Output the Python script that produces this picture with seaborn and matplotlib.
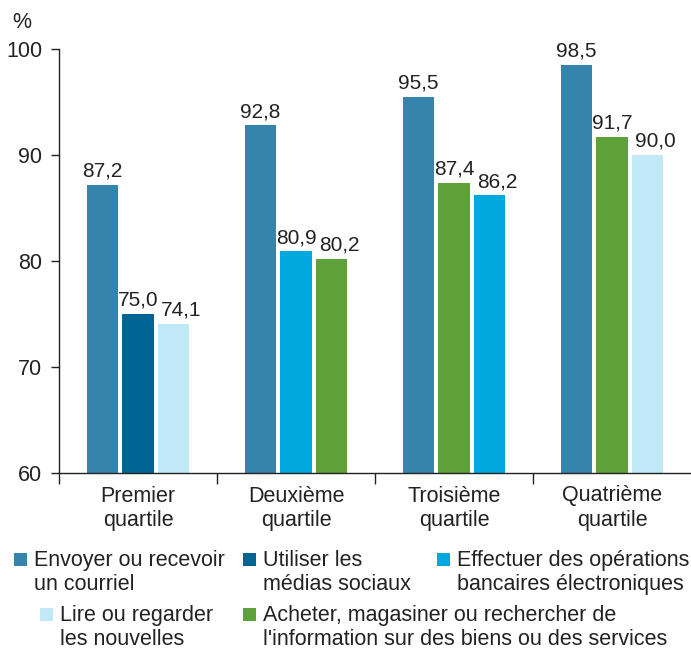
import matplotlib
matplotlib.use("Agg")
import matplotlib.pyplot as plt
from matplotlib.patches import Rectangle
import seaborn as sns
import pandas as pd

quartiles = ["Premier\nquartile", "Deuxième\nquartile", "Troisième\nquartile", "Quatrième\nquartile"]

activities = [
    "Envoyer ou recevoir\nun courriel",
    "Utiliser les\nmédias sociaux",
    "Effectuer des opérations\nbancaires électroniques",
    "Lire ou regarder\nles nouvelles",
    "Acheter, magasiner ou rechercher de\nl'information sur des biens ou des services",
]
activity_colors = ["#3484AB", "#006595", "#00A8DF", "#C0E8F6", "#5EA03A"]

# three most common activities in each quartile, in drawing order
top_activities = [
    [0, 1, 3],
    [0, 2, 4],
    [0, 4, 2],
    [0, 4, 3],
]
top_values = [
    [87.2, 75.0, 74.1],
    [92.8, 80.9, 80.2],
    [95.5, 87.4, 86.2],
    [98.5, 91.7, 90.0],
]

rows = []
for q, name in enumerate(quartiles):
    for r in range(3):
        rows.append({"quartile": name, "rank": r, "value": top_values[q][r],
                     "activity": top_activities[q][r]})
df = pd.DataFrame(rows)

sns.set_style("ticks")
plt.rcParams["font.family"] = ["Liberation Sans", "DejaVu Sans"]
text_color = "#222222"

fig = plt.figure(figsize=(6.91, 6.52), dpi=100)
ax = fig.add_axes([59 / 691, 179 / 652, 632 / 691, 424 / 652])

sns.barplot(data=df, x="quartile", y="value", hue="rank", order=quartiles,
            dodge=True, width=0.674, gap=0.1, legend=False, ax=ax,
            saturation=1, linewidth=0)

value_texts = []
for r, cont in enumerate(ax.containers):
    for q, bar in enumerate(cont):
        bar.set_facecolor(activity_colors[top_activities[q][r]])
        bar.set_edgecolor("none")
    labels = [f"{top_values[q][r]:.1f}".replace(".", ",") for q in range(len(quartiles))]
    value_texts.append(ax.bar_label(cont, labels=labels, padding=3, fontsize=15,
                                    color=text_color))

ax.set_ylim(60, 100)
ax.set_xlim(-0.5, 3.5)
ax.set_yticks([60, 70, 80, 90, 100])
ax.set_xlabel("")
ax.set_ylabel("")
sns.despine(ax=ax, top=True, right=True)
for side in ["left", "bottom"]:
    ax.spines[side].set_color(text_color)
    ax.spines[side].set_linewidth(1.0)

ax.tick_params(axis="y", length=6, width=1, color=text_color, labelsize=15.5,
               labelcolor=text_color, pad=6)
ax.tick_params(axis="x", which="major", length=0, labelsize=15.5,
               labelcolor=text_color, pad=9)
ax.set_xticks([-0.5, 0.5, 1.5, 2.5], minor=True)
ax.tick_params(axis="x", which="minor", length=8, width=1, color=text_color)
for lab in ax.get_xticklabels():
    lab.set_linespacing(1.2)

# push a value label to the right when it collides with its left neighbour
fig.canvas.draw()
renderer = fig.canvas.get_renderer()
px_to_pt = 72 / fig.dpi
for q in range(len(quartiles)):
    for r in (1, 2):
        left = value_texts[r - 1][q].get_window_extent(renderer)
        ann = value_texts[r][q]
        right = ann.get_window_extent(renderer)
        if left.overlaps(right):
            shift = left.x1 - right.x0 + 3
            dx, dy = ann.xyann
            ann.xyann = (dx + shift * px_to_pt, dy)
            fig.canvas.draw()

fig.text(12 / 691, 1 - 23 / 652, "%", fontsize=15.5, color=text_color,
         ha="left", va="center")

# legend, two rows laid out like the original
legend_slots = [
    (0, 14, 553),
    (1, 243, 553),
    (2, 437, 553),
    (3, 40, 608),
    (4, 243, 608),
]
sq = 13
for idx, px, py in legend_slots:
    fig.add_artist(Rectangle((px / 691, 1 - (py + sq) / 652), sq / 691, sq / 652,
                             transform=fig.transFigure, facecolor=activity_colors[idx],
                             edgecolor="none"))
    fig.text((px + sq + 7) / 691, 1 - (py - 3) / 652, activities[idx], fontsize=15.5,
             color=text_color, ha="left", va="top", linespacing=1.2)

fig.savefig("out.png", dpi=100)
